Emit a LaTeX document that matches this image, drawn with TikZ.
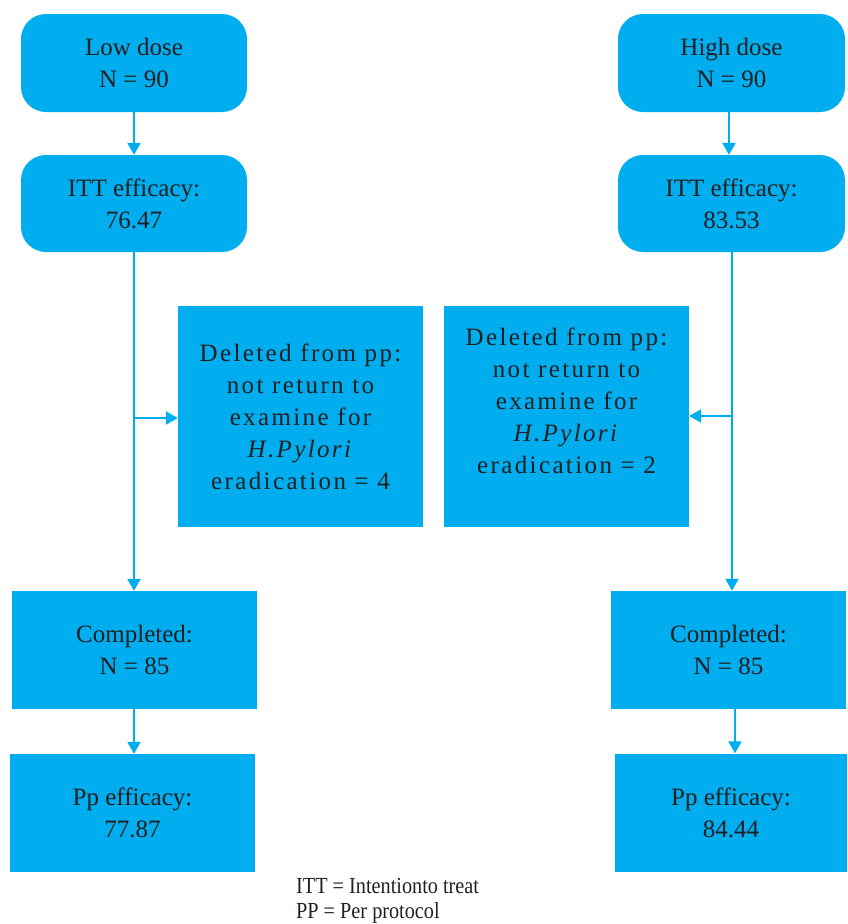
\documentclass[tikz,border=0pt]{standalone}
\usepackage{fontspec}
\setmainfont{Liberation Serif}
\newfontfamily\spacedfont[LetterSpace=9.5]{Liberation Serif}
\newfontfamily\narrowfont[FakeStretch=0.88]{Liberation Serif}
\usetikzlibrary{arrows.meta}
\definecolor{boxblue}{HTML}{00AEEF}
\definecolor{inktext}{HTML}{231F20}
\tikzset{
  flowbox/.style={rectangle, fill=boxblue, draw=none, text=inktext, align=center, inner sep=0pt,
    font=\fontsize{25}{32}\selectfont},
  roundbox/.style={flowbox, rounded corners=25pt, minimum width=226pt, minimum height=98pt},
  delbox/.style={flowbox, minimum width=245pt, minimum height=221pt, font=\spacedfont\fontsize{25}{32}\selectfont},
  sqbox/.style={flowbox, minimum height=118pt},
  conn/.style={draw=boxblue, line width=2.2pt, -{Triangle[width=13pt,length=12pt]}},
}
\begin{document}
\begin{tikzpicture}[x=1pt, y=-1pt]
\useasboundingbox (0,0) rectangle (847,924);
% left column
\node[roundbox] (low) at (134,63) {Low dose\\N = 90};
\node[roundbox, minimum height=97pt] (ittL) at (134,203.5) {ITT efficacy:\\76.47};
\node[sqbox, minimum width=245pt] (compL) at (134.5,650) {Completed:\\N = 85};
\node[sqbox, minimum width=245pt] (ppL) at (132.5,813) {Pp efficacy:\\77.87};
% right column
\node[roundbox, minimum width=227pt] (high) at (731.5,63) {High dose\\N = 90};
\node[roundbox, minimum width=227pt, minimum height=97pt] (ittR) at (731.5,203.5) {ITT efficacy:\\83.53};
\node[sqbox, minimum width=235pt] (compR) at (728.5,650) {Completed:\\N = 85};
\node[sqbox, minimum width=232pt] (ppR) at (731,812.5) {Pp efficacy:\\84.44};
% middle boxes
\node[delbox] (delL) at (300.5,416.5) {Deleted from pp:\\not return to\\examine for\\\textit{H.Pylori}\\eradication = 4};
\node[delbox] (delR) at (566.5,416.5) {Deleted from pp:\\not return to\\examine for\\\textit{H.Pylori}\\eradication = 2\\\mbox{}};
% connectors
\draw[conn] (low.south) -- (ittL.north);
\draw[conn] (ittL.south) -- (ittL.south |- compL.north);
\coordinate (bL) at (ittL.south |- 0,418);
\draw[conn] (bL) -- (bL -| delL.west);
\draw[conn] (compL.south -| ittL.south) -- (ittL.south |- ppL.north);
\draw[conn] (high.south -| 729,0) -- (729,0 |- ittR.north);
\coordinate (rx) at (732,0);
\draw[conn] (ittR.south -| rx) -- (rx |- compR.north);
\coordinate (bR) at (732,416);
\draw[conn] (bR) -- (bR -| delR.east);
\coordinate (rx2) at (735,0);
\draw[conn] (compR.south -| rx2) -- (rx2 |- ppR.north);
% footnote
\node[anchor=west, align=left, inner sep=0pt, text=inktext, font=\narrowfont\fontsize{23}{25}\selectfont] (note) at (296,901) {ITT = Intentionto treat\\PP = Per protocol};
\end{tikzpicture}
\end{document}
